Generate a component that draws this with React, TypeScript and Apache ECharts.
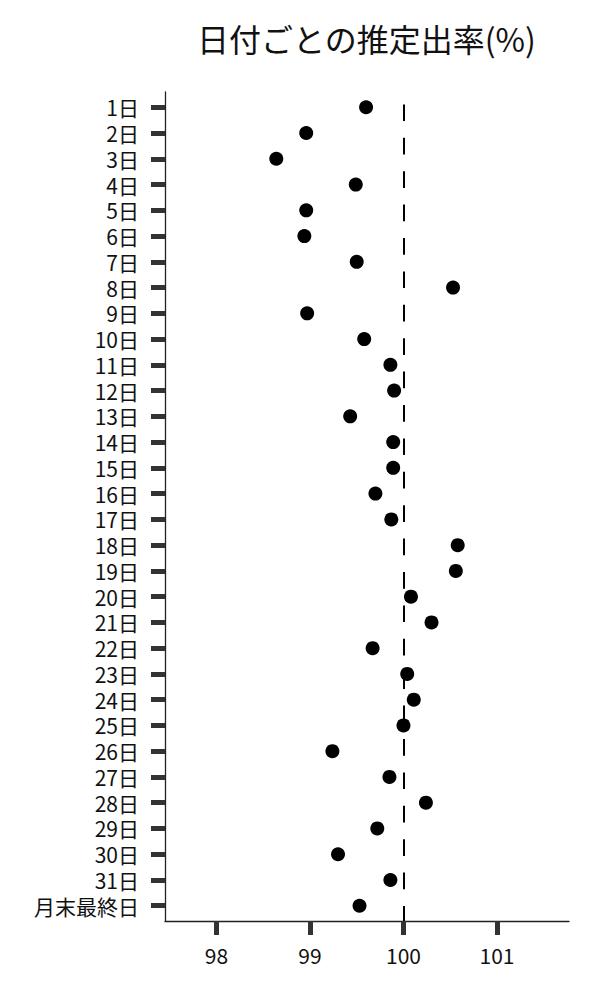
import React, { useEffect, useRef } from "react";
import * as echarts from "echarts";

const categories = [
  "1日", "2日", "3日", "4日", "5日", "6日", "7日", "8日", "9日", "10日",
  "11日", "12日", "13日", "14日", "15日", "16日", "17日", "18日", "19日", "20日",
  "21日", "22日", "23日", "24日", "25日", "26日", "27日", "28日", "29日", "30日",
  "31日", "月末最終日",
];

const rates = [
  99.60, 98.96, 98.64, 99.49, 98.96, 98.94, 99.50, 100.53, 98.97, 99.58,
  99.86, 99.90, 99.43, 99.89, 99.89, 99.70, 99.87, 100.58, 100.56, 100.08,
  100.30, 99.67, 100.04, 100.11, 100.00, 99.24, 99.85, 100.24, 99.72, 99.30,
  99.86, 99.53,
];

const xTicks = [98, 99, 100, 101];
const referenceValue = 100;
const titleText = "日付ごとの推定出率(%)";

const FONT = '"Noto Sans CJK JP", "Noto Sans", sans-serif';

export default function App() {
  const ref = useRef<HTMLDivElement>(null);

  useEffect(() => {
    if (!ref.current) return;
    const chart = echarts.init(ref.current, undefined, { renderer: "svg" });
    const rowIdx = categories.map((_, i) => i);
    chart.setOption({
      animation: false,
      backgroundColor: "#ffffff",
      textStyle: { fontFamily: FONT },
      graphic: [
        {
          type: "text",
          x: 366.5,
          y: 22,
          style: {
            text: titleText,
            fill: "#111",
            font: `32px ${FONT}`,
            textAlign: "center",
            textVerticalAlign: "top",
            align: "center",
            verticalAlign: "top",
          },
        },
      ],
      grid: { left: 165, right: 31, top: 92, bottom: 79, containLabel: false },
      xAxis: {
        type: "value",
        min: 97.45,
        max: 101.77,
        splitLine: { show: false },
        axisLine: { show: true, onZero: false, lineStyle: { color: "#222", width: 1.3 } },
        axisTick: {
          show: true,
          customValues: xTicks,
          length: 14,
          lineStyle: { color: "#333", width: 5 },
        },
        axisLabel: {
          customValues: xTicks,
          margin: 23,
          fontSize: 21,
          lineHeight: 21,
          color: "#111",
          fontFamily: FONT,
        },
      },
      yAxis: {
        type: "value",
        inverse: true,
        min: -0.594,
        max: categories.length - 1 + 0.594,
        axisLine: { show: true, onZero: false, lineStyle: { color: "#222", width: 1.3 } },
        axisTick: {
          show: true,
          customValues: rowIdx,
          length: 14,
          lineStyle: { color: "#333", width: 5 },
        },
        axisLabel: {
          customValues: rowIdx,
          formatter: (v: number) => categories[Math.round(v)] ?? "",
          margin: 26,
          fontSize: 21,
          lineHeight: 21,
          color: "#111",
          fontFamily: FONT,
        },
        splitLine: { show: false },
      },
      series: [
        {
          type: "scatter",
          data: rates.map((v, i) => [v, i]),
          symbol: "circle",
          symbolSize: 14,
          itemStyle: { color: "#000", opacity: 1 },
          z: 3,
          markLine: {
            silent: true,
            symbol: ["none", "none"],
            label: { show: false },
            lineStyle: {
              color: "#000",
              width: 2,
              opacity: 1,
              type: [16.7, 16.7],
              dashOffset: 21.4,
            },
            data: [{ xAxis: referenceValue }],
          },
        },
      ],
    });
    return () => chart.dispose();
  }, []);

  return (
    <div
      ref={ref}
      style={{ position: "fixed", left: 0, top: 0, width: 600, height: 1000 }}
    />
  );
}
